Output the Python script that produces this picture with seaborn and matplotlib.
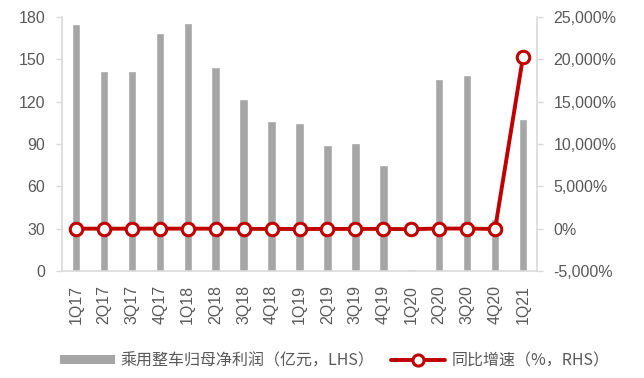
import matplotlib
matplotlib.use("Agg")
import matplotlib.pyplot as plt
import seaborn as sns
import pandas as pd
from matplotlib.ticker import FuncFormatter
from matplotlib.lines import Line2D
from matplotlib.patches import Patch

quarters = ["1Q17", "2Q17", "3Q17", "4Q17", "1Q18", "2Q18", "3Q18", "4Q18", "1Q19",
            "2Q19", "3Q19", "4Q19", "1Q20", "2Q20", "3Q20", "4Q20", "1Q21"]
profit = [175.3, 141.5, 141.5, 168.4, 175.5, 144.3, 121.7, 106.1, 104.7,
          89.1, 90.5, 74.9, 1.4, 135.8, 138.7, 36.9, 107.7]
yoy = [5, -3, 2, 8, 0, 2, -14, -37, -40, -38, -26, -29, -60, 15, 15, -40, 20300]

sns.set_theme(style="white")
plt.rcParams['font.family'] = ['Liberation Sans', 'Noto Sans CJK SC', 'DejaVu Sans']

df = pd.DataFrame({"q": quarters, "profit": profit, "yoy": yoy})

fig = plt.figure(figsize=(6.44, 3.78), dpi=100)
ax = fig.add_axes([62/644, 1 - 271/378, (537-62)/644, (271-17)/378])
ax2 = ax.twinx()

sns.barplot(data=df, x="q", y="profit", color="#A6A6A6", width=0.3,
            saturation=1, ax=ax, zorder=2)
sns.lineplot(data=df, x="q", y="yoy", color="#C00000", lw=2.8, marker="o",
             markersize=9, markerfacecolor="white", markeredgecolor="#C00000",
             markeredgewidth=2.2, ax=ax2, zorder=3)

grey = "#595959"
ax.set_ylim(0, 180)
ax.set_yticks(range(0, 181, 30))
ax2.set_ylim(-5000, 25000)
ax2.set_yticks(range(-5000, 25001, 5000))
ax2.yaxis.set_major_formatter(FuncFormatter(lambda v, p: f"{int(v):,}%"))
ax.set_xlim(-0.5, len(quarters) - 0.5)

for a in (ax, ax2):
    a.set_xlabel("")
    a.set_ylabel("")
    a.spines["top"].set_visible(False)
    for s in ("left", "right", "bottom"):
        a.spines[s].set_color("#D9D9D9")
        a.spines[s].set_linewidth(1.2)
    a.tick_params(colors=grey, labelsize=11.5, length=4, width=1, color="#D9D9D9")
    a.tick_params(labelcolor=grey)
    a.grid(False)
ax.tick_params(axis="x", rotation=90, length=0, pad=10)
ax.tick_params(axis="y", pad=8)
ax2.tick_params(axis="y", pad=8)
ax.spines["right"].set_visible(False)
ax2.spines["left"].set_visible(False)
ax2.spines["bottom"].set_visible(False)

handles = [Patch(facecolor="#A6A6A6", edgecolor="none"),
           Line2D([0], [0], color="#C00000", lw=2.8, marker="o", markersize=8,
                  markerfacecolor="white", markeredgecolor="#C00000", markeredgewidth=2.2)]
labels = ["乘用整车归母净利润（亿元，LHS）", "同比增速（%，RHS）"]
leg = fig.legend(handles, labels, loc="center", bbox_to_anchor=(0.52, 1 - 361/378),
                 ncol=2, frameon=False, handlelength=3.4,
                 handleheight=0.5, columnspacing=1.0, handletextpad=0.4,
                 prop={"family": ["Noto Sans CJK SC", "DejaVu Sans"], "size": 11.5})
for t in leg.get_texts():
    t.set_color(grey)

fig.savefig("out.png", dpi=100)
